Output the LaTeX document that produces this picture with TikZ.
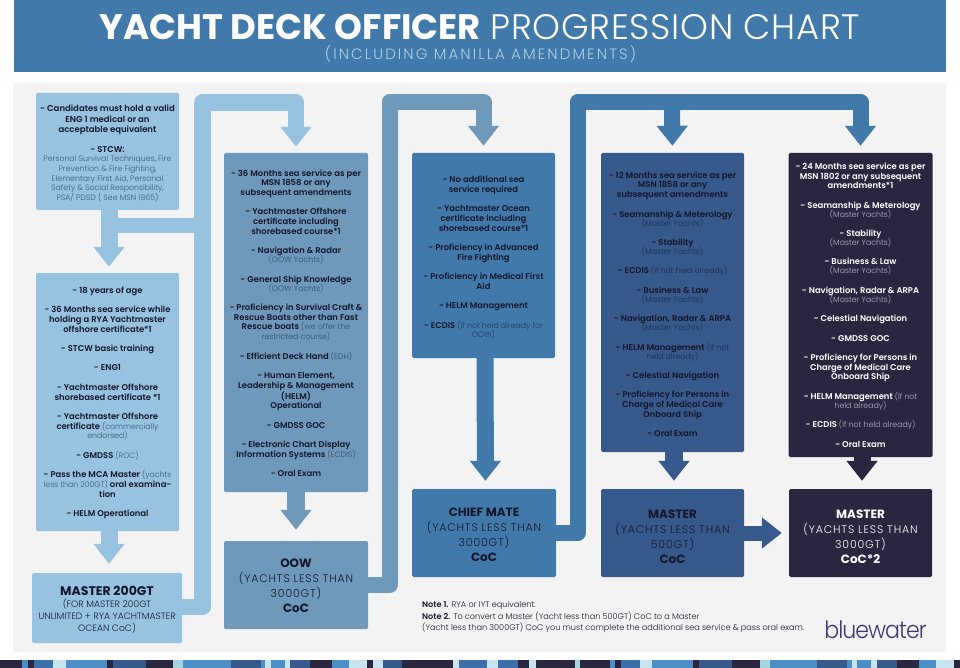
\documentclass[tikz,border=0pt]{standalone}
\usepackage{fontspec}
\usetikzlibrary{arrows.meta}
\setmainfont{Poppins}[UprightFont={* Light},BoldFont={* SemiBold}]
\newfontfamily\preg{Poppins}
\newfontfamily\pbold{Poppins}[UprightFont={* Bold}]
\definecolor{hdr}{HTML}{4279AB}
\definecolor{panel}{HTML}{F3F3F4}
\definecolor{cA}{HTML}{97C3E0}
\definecolor{cB}{HTML}{6F99BB}
\definecolor{cC}{HTML}{4279AB}
\definecolor{cD}{HTML}{37598B}
\definecolor{cE}{HTML}{2A2640}
\definecolor{ink}{HTML}{14172B}
\definecolor{subA}{HTML}{3C5A78}
\definecolor{subB}{HTML}{2F4E6C}
\definecolor{subC}{HTML}{1F3A5C}
\definecolor{subD}{HTML}{1B2C50}
\definecolor{subE}{HTML}{B4B4C4}
\definecolor{stA}{HTML}{4B8FC6}
\definecolor{stB}{HTML}{3D6FA8}
\definecolor{stC}{HTML}{C8E4F0}
\definecolor{stD}{HTML}{A5D5E0}
\definecolor{logo}{HTML}{3A3A70}
\colorlet{subc}{subA}
\newcommand{\smtxt}[1]{{\fontsize{7.8}{9.7}\selectfont\mdseries\color{subc}#1}}
\newcommand{\gap}{\\[9.7pt]}
\newcommand{\nx}{\\[-.7pt]}
\newcommand{\hd}[1]{{\fontsize{12}{15}\pbold\selectfont #1}}
\newcommand{\lsp}[1]{{\addfontfeature{LetterSpace=7.5}#1}}
\newcommand{\lgl}[1]{{\fontsize{8.5}{10.6}\selectfont #1}}
\newcommand{\mdl}[1]{{\fontsize{9.2}{11.5}\selectfont #1}}
\newcommand{\up}[1]{\rule{0pt}{#1pt}}
\tikzset{
  boxbase/.style={rounded corners=1.5pt,inner sep=0pt,align=center,text=ink,font=\fontsize{8.4}{9.7}\selectfont\bfseries},
  headbase/.style={boxbase,font=\fontsize{11}{15}\selectfont},
  boxA/.style={boxbase,fill=cA,execute at begin node=\colorlet{subc}{subA}},
  boxB/.style={boxbase,fill=cB,execute at begin node=\colorlet{subc}{subB}},
  boxC/.style={boxbase,fill=cC,execute at begin node=\colorlet{subc}{subC}},
  boxD/.style={boxbase,fill=cD,execute at begin node=\colorlet{subc}{subD}},
  boxE/.style={boxbase,fill=cE,text=white,execute at begin node=\colorlet{subc}{subE}},
  headA/.style={headbase,fill=cA},
  headB/.style={headbase,fill=cB},
  headC/.style={headbase,fill=cC},
  headD/.style={headbase,fill=cD},
  headE/.style={headbase,fill=cE,text=white},
  pipe/.style={line join=round,line cap=butt},
  flow/.style={pipe,-{Triangle[width=30pt,length=20pt]}},
}
\begin{document}
\begin{tikzpicture}[x=1pt,y=-1pt]
\useasboundingbox (0,0) rectangle (960,668);
\fill[white] (0,0) rectangle (960,668);
\fill[hdr] (14,0) rectangle (946,72);
\fill[panel] (13,83) rectangle (946,652);
\node[anchor=base,text=white,text depth=0pt,inner sep=0pt,font=\fontsize{35.4}{40}\selectfont] (title) at (480,40) {{\pbold YACHT DECK OFFICER} {\addfontfeature{LetterSpace=2}PROGRESSION CHART}};
\node[anchor=base,text=cA!80!white,inner sep=0pt,font=\fontsize{15}{16}\selectfont] (subtitle) at (480.5,59.5) {\addfontfeature{LetterSpace=14}(INCLUDING MANILLA AMENDMENTS)};

% boxes
\node[boxA,minimum width=143pt,minimum height=117pt] (b1) at (107.5,151.5) {\up{10.5}\lgl{- Candidates must hold a valid}\\[1pt]\lgl{ENG 1 medical or an}\\[1pt]\lgl{acceptable equivalent}\\[10pt]- STCW:\\[-.5pt]\smtxt{Personal Survival Techniques, Fire}\\\smtxt{Prevention \& Fire Fighting,}\\\smtxt{Elementary First Aid, Personal}\\\smtxt{Safety \& Social Responsibility,}\\\smtxt{PSA/ PDSD ( See MSN 1865)}};
\node[boxA,minimum width=143pt,minimum height=258pt] (b2) at (107.5,402) {\up{8}- 18 years of age\gap - 36 Months sea service while\\holding a RYA Yachtmaster\\offshore certificate*1\gap - STCW basic training\gap - ENG1\gap - Yachtmaster Offshore\\shorebased certificate *1\gap - Yachtmaster Offshore\\certificate \smtxt{(commercially}\\\smtxt{endorsed)}\gap - GMDSS \smtxt{(ROC)}\gap - Pass the MCA Master \smtxt{(yachts}\\\smtxt{less than 200GT)} oral examina-\\tion\gap - HELM Operational};
\node[headA,minimum width=150pt,minimum height=70pt] (m200) at (107,608) {\up{13}{\fontsize{12.5}{15}\pbold\selectfont MASTER 200GT}\\[-3pt]\mdl{(FOR MASTER 200GT}\\[-3pt]\mdl{UNLIMITED + RYA YACHTMASTER}\\[-3pt]\mdl{OCEAN CoC)}};
\node[boxB,minimum width=144pt,minimum height=339pt] (b3) at (296,322.5) {\up{8}- 36 Months sea service as per\\MSN 1858 or any\\subsequent amendments\gap - Yachtmaster Offshore\\certificate including\\shorebased course*1\gap - Navigation \& Radar\nx\smtxt{(OOW Yachts)}\gap - General Ship Knowledge\nx\smtxt{(OOW Yachts)}\gap - Proficiency in Survival Craft \&\\Rescue Boats other than Fast\\Rescue boats \smtxt{(we offer the}\\\smtxt{restricted course)}\gap - Efficient Deck Hand \smtxt{(EDH)}\gap - Human Element,\\Leadership \& Management\\(HELM)\\Operational\gap - GMDSS GOC\gap - Electronic Chart Display\\Information Systems \smtxt{(ECDIS)}\gap - Oral Exam};
\node[headB,minimum width=144pt,minimum height=88pt] (oow) at (296,585) {\up{10.5}\hd{OOW}\\\lsp{(YACHTS LESS THAN}\\\lsp{3000GT)}\\\hd{CoC}};
\node[boxC,minimum width=143pt,minimum height=205pt] (b4) at (483.5,255.5) {\up{11}- No additional sea\\service required\gap - Yachtmaster Ocean\\certificate including\\shorebased course*1\gap - Proficiency in Advanced\\Fire Fighting\gap - Proficiency in Medical First\\Aid\gap - HELM Management\gap - ECDIS \smtxt{(If not held already for}\\\smtxt{OOW)}};
\node[headC,minimum width=144pt,minimum height=88pt] (chief) at (484,533) {\up{12}\hd{CHIEF MATE}\\\lsp{(YACHTS LESS THAN}\\\lsp{3000GT)}\\\hd{CoC}};
\node[boxD,minimum width=143pt,minimum height=299pt] (b5) at (672.5,302.5) {\up{10}- 12 Months sea service as per\\MSN 1858 or any\\subsequent amendments\gap - Seamanship \& Meterology\nx\smtxt{(Master Yachts)}\gap - Stability\nx\smtxt{(Master Yachts)}\gap - ECDIS \smtxt{(If not held already)}\gap - Business \& Law\nx\smtxt{(Master Yachts)}\gap - Navigation, Radar \& ARPA\nx\smtxt{(Master Yachts)}\gap - HELM Management \smtxt{(If not}\nx\smtxt{held already)}\gap - Celestial Navigation\gap - Proficiency for Persons in\\Charge of Medical Care\\Onboard Ship\gap - Oral Exam};
\node[headD,minimum width=143pt,minimum height=88pt] (m500) at (672.5,533) {\up{16}\hd{MASTER}\\\lsp{(YACHTS LESS THAN}\\\lsp{500GT)}\\\hd{CoC}};
\node[boxE,minimum width=144pt,minimum height=304pt] (b6) at (860.5,305) {- 24 Months sea service as per\\MSN 1802 or any subsequent\\amendments*1\gap - Seamanship \& Meterology\nx\smtxt{(Master Yachts)}\gap - Stability\nx\smtxt{(Master Yachts)}\gap - Business \& Law\nx\smtxt{(Master Yachts)}\gap - Navigation, Radar \& ARPA\nx\smtxt{(Master Yachts)}\gap - Celestial Navigation\gap - GMDSS GOC\gap - Proficiency for Persons in\\Charge of Medical Care\\Onboard Ship\gap - HELM Management \smtxt{(If not}\nx\smtxt{held already)}\gap - ECDIS \smtxt{(If not held already)}\gap - Oral Exam};
\node[headE,minimum width=143pt,minimum height=88pt] (m3000) at (860.5,533) {\up{16}\hd{MASTER}\\\lsp{(YACHTS LESS THAN}\\\lsp{3000GT)}\\\hd{CoC*2}};

% helper coordinates
\coordinate (p1) at (202.5,102.5);
\coordinate (j1) at (109,225.5);
\coordinate (j2) at (202.5,225.5);
\coordinate (p2) at (389.5,102);
\coordinate (p3) at (577.5,102);
\coordinate (j3) at (672,102);

% connectors
\draw[flow,cA,line width=17pt,shorten >=6pt] ([xshift=1.5pt]b1.south) -- ([xshift=1.5pt]b2.north);
\draw[cA,line width=15pt] (j1) -- (j2);
\draw[flow,cA,line width=17pt,shorten >=9pt] ([xshift=1.5pt]b2.south) -- ([xshift=2pt]m200.north);
\draw[flow,cA,line width=16.5pt,shorten >=6pt] ([yshift=1pt]m200.east) -| (p1) -| (b3.north);
\draw[flow,cB,line width=18pt,shorten >=11pt] (b3.south) -- (oow.north);
\draw[flow,cB,line width=16pt,shorten >=7pt] (oow.east) -| (p2) -| (b4.north);
\draw[flow,cC,line width=17pt,shorten >=8pt] ([xshift=1.5pt]b4.south) -- ([xshift=1.5pt]chief.north);
\draw[flow,cC,line width=16pt,shorten >=7pt] (chief.east) -| (p3) -| (b6.north);
\draw[flow,cC,line width=16pt,shorten >=7pt] (j3) -- (b5.north);
\draw[flow,cD,line width=18pt,shorten >=8pt] ([xshift=1.5pt]b5.south) -- ([xshift=1.5pt]m500.north);
\draw[flow,cD,line width=15pt,shorten >=7pt] (m500.east) -- (m3000.west);
\draw[flow,cE,line width=17pt,shorten >=8pt] ([xshift=1.5pt]b6.south) -- ([xshift=1.5pt]m3000.north);

% notes
\node[anchor=north west,inner sep=0pt,align=left,text=ink,font=\fontsize{8.15}{11.3}\selectfont] (notes) at (422,601.5) {{\bfseries Note 1.} RYA or IYT equivalent.\\{\bfseries Note 2.} To convert a Master (Yacht less than 500GT) CoC to a Master\\(Yacht less than 3000GT) CoC you must complete the additional sea service \& pass oral exam.};
\node[anchor=base east,inner sep=0pt,text=logo,font=\fontsize{24}{28}\selectfont] (logo) at (927,638) {\addfontfeature{FakeStretch=0.92,LetterSpace=-4}bluewater};

% bottom strip
\foreach \a/\b/\c in {0/22/cE,22/28/stA,28/33.5/cE,33.5/53/stB,53/66/stC,66/107/stA,107/113/cE,113/146/cD,146/173/cE,173/183/stD,183/231/stA,231/261/cD,261/265/stA,265/271/stC,271/285/stA,285/290/stC,290/310/cD,310/332/cE,332/349/stA,349/367/stC,367/373/cE,373/383/stC,383/402/cD,402/453/cE,453/459/stC,459/487/stB,487/498/stC,498/518/stB,518/529/cE,529/536/stC,536/575/cE,575/580/stD,580/610/cE,610/615/stA,615/621/cE,621/640/stB,640/652/stC,652/693/stA,693/699/cE,699/732/cD,732/760/cE,760/770/stD,770/817/stA,817/847/cD,847/852/stA,852/857/stC,857/871/stA,871/877/stC,877/897/cD,897/919/cE,919/936/stA,936/954/stC,954/960/cE}{\fill[\c] (\a,660) rectangle (\b,668);}
\end{tikzpicture}
\end{document}
